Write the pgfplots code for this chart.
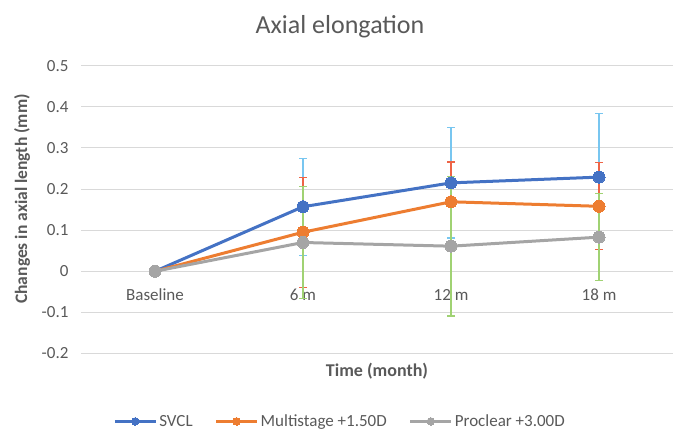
\documentclass[border=0pt]{standalone}
\usepackage{pgfplots}
\pgfplotsset{compat=1.18}
\usepackage{fontspec}
\setmainfont{Carlito}
\definecolor{cblue}{RGB}{68,114,196}
\definecolor{corange}{RGB}{237,125,49}
\definecolor{cgray}{RGB}{165,165,165}
\definecolor{ebblue}{RGB}{120,198,240}
\definecolor{ebred}{RGB}{238,100,70}
\definecolor{ebgreen}{RGB}{160,210,115}
\definecolor{textgray}{RGB}{89,89,89}
\definecolor{gridgray}{RGB}{217,217,217}
\begin{document}
\begin{tikzpicture}
\path[use as bounding box] (0pt,0pt) rectangle (680pt,430pt);
\begin{axis}[
  at={(81pt,76.5pt)}, anchor=south west,
  scale only axis, width=592pt, height=287.8pt,
  xmin=-0.5, xmax=3.5, ymin=-0.2, ymax=0.5,
  xtick={0,1,2,3}, xticklabels={Baseline,6 m,12 m,18 m},
  ytick={-0.2,-0.1,0,0.1,0.2,0.3,0.4,0.5},
  yticklabels={-0.2,-0.1,0,0.1,0.2,0.3,0.4,0.5},
  ymajorgrids, grid style={draw=gridgray, line width=1pt},
  axis line style={draw=none}, major tick length=0pt,
  tick label style={font=\fontsize{17}{20}\selectfont, text=textgray},
  yticklabel style={xshift=-9pt},
  xticklabel style={anchor=base, yshift=52.8pt},
  legend columns=3,
  legend style={at={(rel axis cs:0.4375,-0.236)}, anchor=center, draw=none, fill=none,
    font=\fontsize{17}{20}\selectfont, text=textgray,
    /tikz/every even column/.append style={column sep=20pt}},
  legend image code/.code={\draw[mark repeat=2,mark phase=2,#1,mark size=3.8pt,mark options={line width=0pt}] plot coordinates {(0pt,0pt) (20.5pt,0pt) (41pt,0pt)};},
  clip=false,
]
% error bars
\addplot[forget plot, draw=none, mark=none, error bars/.cd, y dir=both, y explicit,
  error bar style={draw=ebblue, line width=1.2pt},
  error mark options={rotate=90, mark size=4pt, draw=ebblue, line width=1.2pt}]
  coordinates {(1,0.157) +- (0,0.118) (2,0.215) +- (0,0.134) (3,0.229) +- (0,0.155)};
\addplot[forget plot, draw=none, mark=none, error bars/.cd, y dir=both, y explicit,
  error bar style={draw=ebred, line width=1.2pt},
  error mark options={rotate=90, mark size=4pt, draw=ebred, line width=1.2pt}]
  coordinates {(1,0.095) +- (0,0.134) (2,0.169) +- (0,0.097) (3,0.158) +- (0,0.106)};
\addplot[forget plot, draw=none, mark=none, error bars/.cd, y dir=both, y explicit,
  error bar style={draw=ebgreen, line width=1.2pt},
  error mark options={rotate=90, mark size=4pt, draw=ebgreen, line width=1.2pt}]
  coordinates {(1,0.070) +- (0,0.136) (2,0.061) +- (0,0.170) (3,0.083) +- (0,0.106)};
% lines
\addplot[cblue, line width=3pt, mark=*, mark size=6pt, mark options={solid, fill=cblue, line width=0pt}]
  coordinates {(0,0) (1,0.157) (2,0.215) (3,0.229)};
\addlegendentry{SVCL}
\addplot[corange, line width=3pt, mark=*, mark size=6pt, mark options={solid, fill=corange, line width=0pt}]
  coordinates {(0,0) (1,0.095) (2,0.169) (3,0.158)};
\addlegendentry{Multistage +1.50D}
\addplot[cgray, line width=3pt, mark=*, mark size=6pt, mark options={solid, fill=cgray, line width=0pt}]
  coordinates {(0,0) (1,0.070) (2,0.061) (3,0.083)};
\addlegendentry{Proclear +3.00D}
\end{axis}
\node[anchor=base, text=textgray, font=\fontsize{26}{30}\selectfont] at (340pt,396.7pt) {Axial elongation};
\node[anchor=base, text=textgray, font=\fontsize{18}{21}\selectfont\bfseries] at (377pt,53.3pt) {Time (month)};
\node[rotate=90, text=textgray, font=\fontsize{17.5}{21}\selectfont\bfseries] at (22pt,231pt) {Changes in axial length (mm)};
\end{tikzpicture}
\end{document}
